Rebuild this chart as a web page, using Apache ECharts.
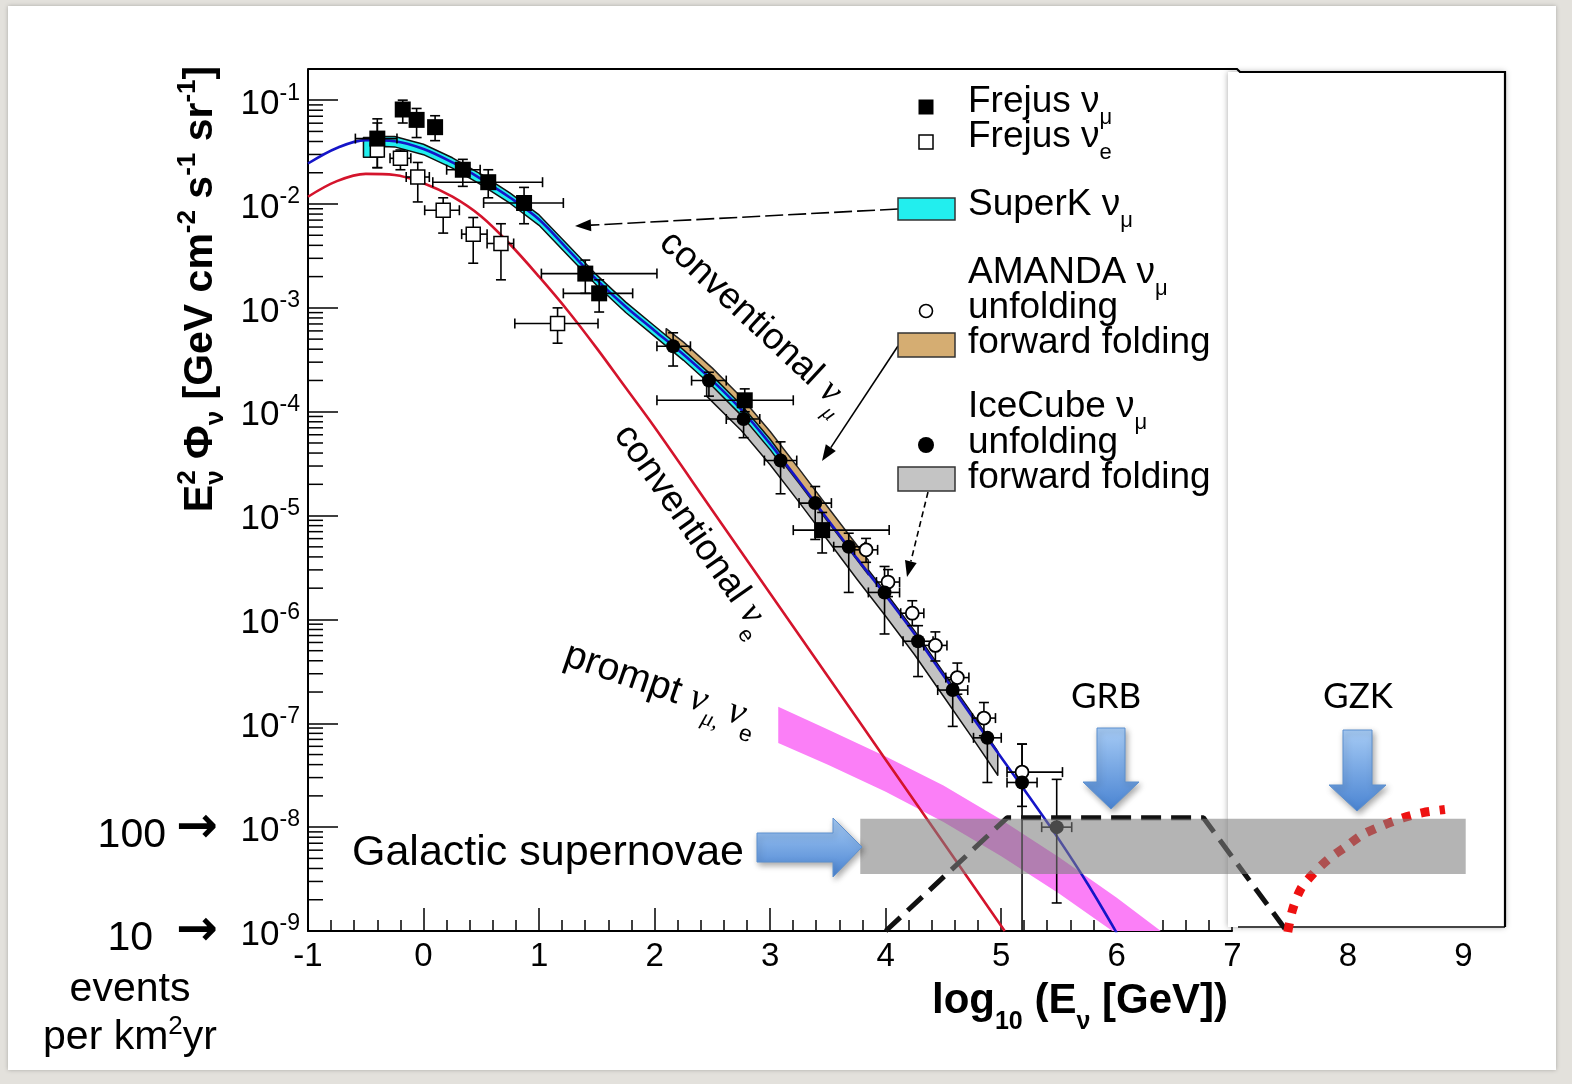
<!DOCTYPE html>
<html>
<head>
<meta charset="utf-8">
<title>Atmospheric neutrino flux</title>
<script src="https://cdn.jsdelivr.net/npm/echarts@6/dist/echarts.min.js"></script>
<style>
  html, body { margin: 0; padding: 0; background: #e3e1dc; }
  #sheet { position: absolute; left: 8px; top: 6px; width: 1548px; height: 1064px; background: #fff;
           box-shadow: 0 0 4px rgba(0,0,0,0.25); }
  #chart { position: absolute; left: 0; top: 0; width: 1572px; height: 1084px; }
</style>
</head>
<body>
<div id="sheet"></div>
<div id="chart"></div>
<script>
// ---------- model curves: x = log10(E/GeV), values = log10 of E^2 Phi ----------
const convMuX   = [-1.0,-0.75,-0.5,-0.25,0.0,0.25,0.5,0.75,1.0,1.25,1.5,1.75,2.0,2.25,2.5,2.75,3.0,3.25,3.5,3.75,4.0,4.25,4.5,4.75,5.0,5.25,5.5,5.75,6.0];
const convMuExp = [-1.61,-1.46,-1.385,-1.395,-1.47,-1.60,-1.76,-1.94,-2.15,-2.44,-2.73,-2.99,-3.22,-3.45,-3.70,-3.98,-4.31,-4.67,-5.04,-5.41,-5.77,-6.14,-6.54,-6.94,-7.33,-7.72,-8.12,-8.55,-9.02];

const convEX   = [-1.0,-0.75,-0.5,-0.25,0.0,0.25,0.5,0.75,1.0,1.25,1.5,1.75,2.0,2.5,3.0,3.5,4.0,4.5,5.03];
const convEExp = [-1.93,-1.78,-1.71,-1.72,-1.80,-1.93,-2.12,-2.39,-2.70,-3.03,-3.39,-3.77,-4.15,-4.95,-5.75,-6.55,-7.35,-8.15,-9.0];

// prompt nu_mu, nu_e band
const promptX     = [3.07, 3.5, 4.0, 4.5, 5.0, 5.5, 6.0, 6.5];
const promptHiExp = [-6.84,-7.06,-7.32,-7.60,-7.93,-8.29,-8.68,-9.10];
const promptLoExp = [-7.19,-7.40,-7.66,-7.95,-8.28,-8.64,-9.03,-9.45];

// SuperK nu_mu band
const superKX     = [-0.52,-0.36,-0.34,-0.25,0.0,0.25,0.5,0.75,1.0,1.25,1.5,1.75,2.0,2.25,2.5,2.75,3.0,3.12];
const superKHiExp = [-1.36,-1.36,-1.35,-1.35,-1.425,-1.555,-1.715,-1.895,-2.105,-2.395,-2.685,-2.945,-3.175,-3.405,-3.655,-3.935,-4.265,-4.445];
const superKLoExp = [-1.55,-1.55,-1.447,-1.45,-1.525,-1.655,-1.815,-1.995,-2.205,-2.495,-2.785,-3.045,-3.275,-3.505,-3.755,-4.035,-4.365,-4.545];

// AMANDA forward folding band
const amandaFFX     = [2.1, 2.25, 2.5, 2.75, 3.0, 3.25, 3.5, 3.85];
const amandaFFHiExp = [-3.20,-3.33,-3.58,-3.86,-4.19,-4.55,-4.92,-5.43];
const amandaFFLoExp = [-3.34,-3.47,-3.72,-4.00,-4.33,-4.69,-5.06,-5.57];

// IceCube forward folding band
const iceFFX     = [2.45, 2.75, 3.0, 3.25, 3.5, 3.75, 4.0, 4.25, 4.5, 4.75, 4.97];
const iceFFHiExp = [-3.62,-3.95,-4.28,-4.64,-5.01,-5.38,-5.74,-6.11,-6.51,-6.91,-7.27];
const iceFFLoExp = [-3.85,-4.18,-4.51,-4.87,-5.24,-5.61,-5.97,-6.34,-6.74,-7.14,-7.50];

// ---------- measurements ----------
const frejusMuX   = [-0.40,-0.18,-0.06, 0.10, 0.34, 0.56, 0.87, 1.40, 1.52, 2.78, 3.45];
const frejusMuExp = [-1.37,-1.09,-1.19,-1.26,-1.67,-1.79,-1.99,-2.67,-2.86,-3.89,-5.14];
const frejusMuXLo = [-0.59, null, null, null, 0.20, 0.08, 0.52, 1.02, 1.21, 2.02, 3.20];
const frejusMuXHi = [-0.23, null, null, null, 0.49, 1.03, 1.21, 2.02, 1.81, 3.20, 4.03];
const frejusMuELo = [-1.65,-1.22,-1.36,-1.39,-1.83,-1.94,-2.19,-2.86,-3.04,-4.00,-5.36];
const frejusMuEHi = [-1.18,-1.00,-1.08,-1.15,-1.57,-1.67,-1.84,-2.54,-2.73,-3.78,-4.97];

const frejusEX   = [-0.40,-0.20,-0.05, 0.17, 0.43, 0.67, 1.16];
const frejusEExp = [-1.48,-1.56,-1.74,-2.06,-2.29,-2.38,-3.15];
const frejusEXLo = [null,-0.29,-0.15, 0.01, 0.33, 0.55, 0.79];
const frejusEXHi = [null,-0.11, 0.05, 0.31, 0.55, 0.78, 1.51];
const frejusEELo = [-1.65,-1.67,-1.98,-2.28,-2.57,-2.73,-3.34];
const frejusEEHi = [-1.22,-1.48,-1.60,-1.94,-2.13,-2.19,-3.00];

const iceX   = [2.16, 2.47, 2.77, 3.09, 3.39, 3.68, 3.99, 4.28, 4.58, 4.88, 5.18, 5.48];
const iceExp = [-3.37,-3.70,-4.07,-4.47,-4.88,-5.30,-5.74,-6.21,-6.68,-7.14,-7.57,-8.00];
const iceXLo = [2.02, 2.32, 2.62, 2.95, 3.25, 3.55, 3.85, 4.15, 4.45, 4.76, 5.05, 5.35];
const iceXHi = [2.31, 2.62, 2.91, 3.23, 3.53, 3.82, 4.12, 4.41, 4.71, 5.00, 5.31, 5.61];
const iceELo = [-3.56,-3.85,-4.25,-4.79,-5.23,-5.74,-6.14,-6.55,-7.03,-7.57,-9.10,-8.73];
const iceEHi = [-3.24,-3.62,-3.92,-4.29,-4.72,-5.17,-5.49,-6.06,-6.58,-7.10,-7.20,-7.54];

const amandaX   = [3.83, 4.02, 4.23, 4.43, 4.62, 4.85, 5.18];
const amandaExp = [-5.33,-5.64,-5.94,-6.25,-6.56,-6.95,-7.47];
const amandaXLo = [3.73, 3.92, 4.13, 4.33, 4.52, 4.75, 5.05];
const amandaXHi = [3.93, 4.12, 4.33, 4.53, 4.72, 4.95, 5.53];
const amandaELo = [-5.45,-5.78,-6.06,-6.40,-6.72,-7.12,-7.80];
const amandaEHi = [-5.22,-5.52,-5.82,-6.12,-6.42,-6.80,-7.20];

// ---------- expected signals ----------
const snX = [3.78, 9.02];             // Galactic supernovae band
const snHiExp = -7.92, snLoExp = -8.45;
const grbX   = [4.0, 5.05, 6.75, 7.47];
const grbExp = [-9.0, -7.91, -7.91, -9.0];
const gzkX   = [7.48, 7.52, 7.59, 7.69, 7.83, 7.98, 8.13, 8.31, 8.48, 8.65, 8.84];
const gzkExp = [-9.01,-8.80,-8.60,-8.46,-8.31,-8.19,-8.07,-7.98,-7.91,-7.86,-7.83];

// axis ranges
const xLeft = -1, xRight = 9.36, xMainRight = 7;
const yBottomExp = -9, yTopExp = -0.7;

// ---------- helpers ----------
const SANS = '"Liberation Sans", Arial, Helvetica, sans-serif';
const SERIF = '"Liberation Serif", "DejaVu Serif", serif';
const CALI = 'Lato, "Open Sans", sans-serif';
const p10 = e => Math.pow(10, e);

const mctx = document.createElement('canvas').getContext('2d');
function fontOf(r) { return (r.italic ? 'italic ' : '') + (r.bold ? 'bold ' : '') + r.size + 'px ' + (r.family || SANS); }
// lays text runs on a shared baseline; (x, y) is the baseline anchor
function textLine(runs, opt) {
  let x = 0; const kids = [];
  const z = opt.z || 30;
  runs.forEach(r => {
    const font = fontOf(r);
    mctx.font = font;
    const w = mctx.measureText(r.t).width;
    kids.push({
      type: 'text', x: x + (r.dx || 0), y: (r.dy || 0) - 0.35 * r.size, z: z, silent: true,
      style: {
        text: r.t, font: font, fill: r.color || '#000',
        align: 'left', verticalAlign: 'middle', textAlign: 'left', textVerticalAlign: 'middle',
        shadowBlur: r.shadow ? 4 : 0, shadowColor: 'rgba(0,0,0,0.5)',
        shadowOffsetX: r.shadow ? 2 : 0, shadowOffsetY: r.shadow ? 2 : 0
      }
    });
    if (!r.stack) x += w;
  });
  const shift = opt.align === 'center' ? -x / 2 : opt.align === 'right' ? -x : 0;
  kids.forEach(k => { k.x += shift; });
  return { type: 'group', x: opt.x, y: opt.y, rotation: (opt.rot || 0) * Math.PI / 180, z: z, children: kids };
}

function bandSeries(name, xs, hi, lo, fill, stroke, z) {
  return {
    type: 'custom', name: name, z: z, clip: true, silent: true,
    data: xs.map((x, i) => [x, p10(hi[i])]),
    renderItem: (params, api) => {
      if (params.dataIndex !== 0) return null;
      const up = xs.map((x, i) => api.coord([x, p10(hi[i])]));
      const dn = xs.map((x, i) => api.coord([x, p10(lo[i])])).reverse();
      return { type: 'polygon', shape: { points: up.concat(dn) },
               style: { fill: fill, stroke: stroke, lineWidth: stroke ? 1.5 : 0, lineJoin: 'round' } };
    }
  };
}

function errorSeries(xs, ys, xlo, xhi, ylo, yhi, z) {
  const cap = 5;
  return {
    type: 'custom', z: z, clip: true, silent: true,
    data: xs.map((x, i) => [x, p10(ys[i])]),
    renderItem: (params, api) => {
      const i = params.dataIndex;
      const kids = [];
      const st = { stroke: '#000', lineWidth: 1.6 };
      if (ylo[i] !== null) {
        const a = api.coord([xs[i], p10(ylo[i])]), b = api.coord([xs[i], p10(yhi[i])]);
        kids.push({ type: 'line', shape: { x1: a[0], y1: a[1], x2: b[0], y2: b[1] }, style: st });
        kids.push({ type: 'line', shape: { x1: a[0] - cap, y1: a[1], x2: a[0] + cap, y2: a[1] }, style: st });
        kids.push({ type: 'line', shape: { x1: b[0] - cap, y1: b[1], x2: b[0] + cap, y2: b[1] }, style: st });
      }
      if (xlo[i] !== null) {
        const a = api.coord([xlo[i], p10(ys[i])]), b = api.coord([xhi[i], p10(ys[i])]);
        kids.push({ type: 'line', shape: { x1: a[0], y1: a[1], x2: b[0], y2: b[1] }, style: st });
        kids.push({ type: 'line', shape: { x1: a[0], y1: a[1] - cap, x2: a[0], y2: a[1] + cap }, style: st });
        kids.push({ type: 'line', shape: { x1: b[0], y1: b[1] - cap, x2: b[0], y2: b[1] + cap }, style: st });
      }
      return { type: 'group', children: kids };
    }
  };
}

// minor ticks of the logarithmic axis (2..9 x 10^n)
const yMinorTicks = [];
for (let n = yBottomExp; n < 0; n++) for (let m = 2; m <= 9; m++) {
  const v = m * p10(n);
  if (v < p10(yTopExp) * 0.999) yMinorTicks.push(v);
}

const seriesList = [
  // prompt band
  bandSeries('prompt', promptX, promptHiExp, promptLoExp, '#fb7ff7', null, 2),
  // forward folding bands
  bandSeries('IceCube forward folding', iceFFX, iceFFHiExp, iceFFLoExp, '#c2c2c2', '#111', 3),
  bandSeries('AMANDA forward folding', amandaFFX, amandaFFHiExp, amandaFFLoExp, '#d5ad72', '#222', 3),
  bandSeries('SuperK', superKX, superKHiExp, superKLoExp, '#22eeee', '#111', 3),
  // conventional fluxes
  { type: 'line', name: 'conventional nu_e', z: 4, smooth: 0.35, showSymbol: false, silent: true,
    data: convEX.map((x, i) => [x, p10(convEExp[i])]),
    lineStyle: { color: '#d4142c', width: 2.6 } },
  { type: 'line', name: 'conventional nu_mu', z: 5, smooth: 0.35, showSymbol: false, silent: true,
    data: convMuX.map((x, i) => [x, p10(convMuExp[i])]),
    lineStyle: { color: '#1515c8', width: 2.6 } },
  // GRB and GZK expectations
  { type: 'line', name: 'GRB', z: 6, showSymbol: false, silent: true, clip: false,
    data: grbX.map((x, i) => [x, p10(grbExp[i])]),
    lineStyle: { color: '#111', width: 5, type: [20, 10] } },
  { type: 'line', name: 'GZK', z: 6, showSymbol: false, silent: true, clip: false, smooth: 0.3,
    data: gzkX.map((x, i) => [x, p10(gzkExp[i])]),
    lineStyle: { color: '#ee1111', width: 9, type: [9, 10], cap: 'butt' } },
  // error bars
  errorSeries(frejusEX, frejusEExp, frejusEXLo, frejusEXHi, frejusEELo, frejusEEHi, 6),
  errorSeries(frejusMuX, frejusMuExp, frejusMuXLo, frejusMuXHi, frejusMuELo, frejusMuEHi, 6),
  errorSeries(amandaX, amandaExp, amandaXLo, amandaXHi, amandaELo, amandaEHi, 6),
  errorSeries(iceX, iceExp, iceXLo, iceXHi, iceELo, iceEHi, 6),
  // markers
  { type: 'scatter', name: 'Frejus nu_e', z: 7, symbol: 'rect', symbolSize: 14, silent: true,
    data: frejusEX.map((x, i) => [x, p10(frejusEExp[i])]),
    itemStyle: { color: '#fff', borderColor: '#000', borderWidth: 1.5, opacity: 1 } },
  { type: 'scatter', name: 'Frejus nu_mu', z: 8, symbol: 'rect', symbolSize: 16, silent: true,
    data: frejusMuX.map((x, i) => [x, p10(frejusMuExp[i])]),
    itemStyle: { color: '#000', opacity: 1 } },
  { type: 'scatter', name: 'AMANDA unfolding', z: 7, symbol: 'circle', symbolSize: 13, silent: true,
    data: amandaX.map((x, i) => [x, p10(amandaExp[i])]),
    itemStyle: { color: '#fff', borderColor: '#000', borderWidth: 1.8, opacity: 1 } },
  { type: 'scatter', name: 'IceCube unfolding', z: 8, symbol: 'circle', symbolSize: 14, silent: true,
    data: iceX.map((x, i) => [x, p10(iceExp[i])]),
    itemStyle: { color: '#000', opacity: 1 } },
  // Galactic supernovae band
  { type: 'custom', name: 'Galactic supernovae', z: 10, silent: true, clip: false,
    data: [[snX[0], p10(snHiExp)]],
    renderItem: (params, api) => {
      const a = api.coord([snX[0], p10(snHiExp)]), b = api.coord([snX[1], p10(snLoExp)]);
      return { type: 'rect', shape: { x: a[0], y: a[1], width: b[0] - a[0], height: b[1] - a[1] },
               style: { fill: 'rgba(125,125,125,0.58)' } };
    } },
  // minor ticks of the y axis
  { type: 'custom', name: 'minor ticks', z: 4, silent: true, clip: false,
    data: yMinorTicks.map(v => [xLeft, v]),
    renderItem: (params, api) => {
      const p = api.coord([xLeft, yMinorTicks[params.dataIndex]]);
      return { type: 'line', shape: { x1: p[0], y1: p[1], x2: p[0] + 15, y2: p[1] },
               style: { stroke: '#000', lineWidth: 1.5 } };
    } }
];

// ---------- static decorations ----------
function blockArrow(points) {
  return { type: 'polygon', z: 20, silent: true, shape: { points: points },
    style: { fill: new echarts.graphic.LinearGradient(0, 0, 0, 1, [
              { offset: 0, color: '#a6cbf5' }, { offset: 1, color: '#4a84d2' }]),
             stroke: '#5d90cf', lineWidth: 1,
             shadowBlur: 6, shadowColor: 'rgba(0,0,0,0.35)', shadowOffsetX: 2, shadowOffsetY: 3 } };
}
function leader(x1, y1, x2, y2, dash) {
  const ang = Math.atan2(y2 - y1, x2 - x1), L = 16, W = 6;
  const bx = x2 - L * Math.cos(ang), by = y2 - L * Math.sin(ang);
  const nx = -Math.sin(ang), ny = Math.cos(ang);
  return [
    { type: 'line', z: 25, silent: true, shape: { x1: x1, y1: y1, x2: bx, y2: by },
      style: { stroke: '#000', lineWidth: 1.6, lineDash: dash || null } },
    { type: 'polygon', z: 25, silent: true,
      shape: { points: [[x2, y2], [bx + nx * W, by + ny * W], [bx - nx * W, by - ny * W]] },
      style: { fill: '#000' } }
  ];
}
function rightArrowGlyph(x, y) {
  return textLine([{ t: '\u2192', size: 50, bold: true, family: '"DejaVu Sans"', shadow: true }], { x: x, y: y });
}

const LEG = 37, SUB = 22;
const graphics = [
  // right-hand extension panel
  { type: 'rect', z: 1, silent: true, shape: { x: 1228, y: 72, width: 277, height: 855 },
    style: { fill: '#fff', shadowBlur: 6, shadowColor: 'rgba(0,0,0,0.35)' } },
  { type: 'polyline', z: 26, silent: true, shape: { points: [[308, 69], [1237, 69], [1240, 72], [1505, 72], [1505, 927]] },
    style: { stroke: '#000', lineWidth: 2.2, fill: null } },
  { type: 'line', z: 1, silent: true, shape: { x1: 1238, y1: 927, x2: 1505, y2: 927 },
    style: { stroke: '#444', lineWidth: 2 } },

  // legend symbols
  { type: 'rect', z: 30, shape: { x: 918.5, y: 99.5, width: 15, height: 15 }, style: { fill: '#000' } },
  { type: 'rect', z: 30, shape: { x: 919, y: 135, width: 14, height: 14 }, style: { fill: '#fff', stroke: '#000', lineWidth: 1.5 } },
  { type: 'rect', z: 30, shape: { x: 898, y: 198, width: 57, height: 22 }, style: { fill: '#22eeee', stroke: '#333', lineWidth: 1.5 } },
  { type: 'circle', z: 30, shape: { cx: 926, cy: 311, r: 6.5 }, style: { fill: '#fff', stroke: '#000', lineWidth: 1.6 } },
  { type: 'rect', z: 30, shape: { x: 898, y: 333, width: 57, height: 24 }, style: { fill: '#d5ad72', stroke: '#333', lineWidth: 1.5 } },
  { type: 'circle', z: 30, shape: { cx: 926, cy: 445, r: 8 }, style: { fill: '#000' } },
  { type: 'rect', z: 30, shape: { x: 898, y: 467, width: 57, height: 24 }, style: { fill: '#c4c4c4', stroke: '#333', lineWidth: 1.5 } },

  // legend labels
  textLine([{ t: 'Frejus \u03bd', size: LEG }, { t: '\u03bc', size: SUB, dy: 11 }], { x: 968, y: 115 }),
  textLine([{ t: 'Frejus \u03bd', size: LEG }, { t: 'e', size: SUB, dy: 11 }], { x: 968, y: 150 }),
  textLine([{ t: 'SuperK \u03bd', size: LEG }, { t: '\u03bc', size: SUB, dy: 11 }], { x: 968, y: 218 }),
  textLine([{ t: 'AMANDA \u03bd', size: LEG }, { t: '\u03bc', size: SUB, dy: 11 }], { x: 968, y: 286 }),
  textLine([{ t: 'unfolding', size: LEG }], { x: 968, y: 321 }),
  textLine([{ t: 'forward folding', size: LEG }], { x: 968, y: 356 }),
  textLine([{ t: 'IceCube \u03bd', size: LEG }, { t: '\u03bc', size: SUB, dy: 11 }], { x: 968, y: 420 }),
  textLine([{ t: 'unfolding', size: LEG }], { x: 968, y: 456 }),
  textLine([{ t: 'forward folding', size: LEG }], { x: 968, y: 491 }),

  // leader arrows from the legend
  ...leader(898, 209, 575, 226, [18, 5]),
  ...leader(898, 346, 822, 461, null),
  ...leader(928, 492, 907, 577, [6, 4]),

  // curve annotations
  textLine([{ t: 'conventional ', size: 37 }, { t: '\u03bd', size: 37, italic: true, family: SERIF },
            { t: '\u03bc', size: 22, italic: true, family: SERIF, dy: 12 }], { x: 656, y: 247, rot: -43 }),
  textLine([{ t: 'conventional ', size: 37 }, { t: '\u03bd', size: 37, italic: true, family: SERIF },
            { t: 'e', size: 22, dy: 12 }], { x: 611, y: 436, rot: -55 }),
  textLine([{ t: 'prompt ', size: 39 }, { t: '\u03bd', size: 39, italic: true, family: SERIF },
            { t: '\u03bc, ', size: 23, italic: true, family: SERIF, dy: 10 },
            { t: '\u03bd', size: 39, italic: true, family: SERIF },
            { t: 'e', size: 23, dy: 12 }], { x: 561, y: 667, rot: -19 }),

  // signal labels and arrows
  textLine([{ t: 'Galactic supernovae', size: 43 }], { x: 352, y: 868 }),
  blockArrow([[757, 833], [833, 833], [833, 818], [862, 847], [833, 877], [833, 862], [757, 862]]),
  textLine([{ t: 'GRB', size: 35, family: CALI }], { x: 1106, y: 709, align: 'center' }),
  blockArrow([[1097, 728], [1125, 728], [1125, 782], [1139, 782], [1111, 809], [1083, 782], [1097, 782]]),
  textLine([{ t: 'GZK', size: 35, family: CALI }], { x: 1358, y: 709, align: 'center' }),
  blockArrow([[1343, 730], [1372, 730], [1372, 785], [1386, 785], [1357, 811], [1329, 785], [1343, 785]]),

  // event-rate scale on the left
  textLine([{ t: '100', size: 41 }], { x: 166, y: 850, align: 'right' }),
  rightArrowGlyph(176, 847),
  textLine([{ t: '10', size: 41 }], { x: 153, y: 953, align: 'right' }),
  rightArrowGlyph(176, 950),
  textLine([{ t: 'events', size: 41 }], { x: 130, y: 1004, align: 'center' }),
  textLine([{ t: 'per km', size: 41 }, { t: '2', size: 26, dy: -16 }, { t: 'yr', size: 41 }], { x: 130, y: 1052, align: 'center' }),

  // axis titles
  textLine([{ t: 'E', size: 41, bold: true }, { t: '2', size: 26, bold: true, dy: -18, stack: true },
            { t: '\u03bd', size: 26, bold: true, dy: 10 }, { t: ' \u03a6', size: 41, bold: true },
            { t: '\u03bd', size: 26, bold: true, dy: 10 }, { t: ' [GeV cm', size: 41, bold: true },
            { t: '-2', size: 26, bold: true, dy: -18 }, { t: ' s', size: 41, bold: true },
            { t: '-1', size: 26, bold: true, dy: -18 }, { t: ' sr', size: 41, bold: true },
            { t: '-1', size: 26, bold: true, dy: -18 }, { t: ']', size: 41, bold: true }],
           { x: 215, y: 289, rot: 90, align: 'center' }),
  textLine([{ t: 'log', size: 42, bold: true }, { t: '10', size: 25, bold: true, dy: 15 },
            { t: ' (E', size: 42, bold: true }, { t: '\u03bd', size: 25, bold: true, dy: 15 },
            { t: ' [GeV])', size: 42, bold: true }], { x: 1080, y: 1016, align: 'center' })
];

const option = {
  animation: false,
  backgroundColor: 'transparent',
  grid: [
    { left: 308, top: 69, width: 1197, height: 862 },
    { left: 308, top: 69, width: 924, height: 862 }
  ],
  xAxis: [
    { gridIndex: 0, type: 'value', min: xLeft, max: xRight, interval: 1,
      axisLine: { show: false, onZero: false }, axisTick: { show: false }, splitLine: { show: false },
      axisLabel: { margin: 9, fontSize: 33, fontFamily: SANS, color: '#000',
                   formatter: v => (Math.abs(v - Math.round(v)) < 1e-6 ? String(Math.round(v)) : '') } },
    { gridIndex: 1, type: 'value', min: xLeft, max: xMainRight, interval: 1,
      axisLine: { show: true, onZero: false, lineStyle: { color: '#000', width: 2 } },
      axisTick: { show: true, inside: true, length: 23, lineStyle: { color: '#000', width: 1.5 } },
      minorTick: { show: true, splitNumber: 5, length: 11, lineStyle: { color: '#000', width: 1.5 } },
      axisLabel: { show: false }, splitLine: { show: false } }
  ],
  yAxis: [
    { gridIndex: 0, type: 'log', logBase: 10, min: p10(yBottomExp), max: p10(yTopExp),
      axisLine: { show: true, onZero: false, lineStyle: { color: '#000', width: 2 } },
      axisTick: { show: true, inside: true, length: 30, lineStyle: { color: '#000', width: 1.5 } },
      splitLine: { show: false },
      axisLabel: { margin: 8,
        formatter: v => {
          const e = Math.log10(v);
          if (Math.abs(e - Math.round(e)) > 1e-6) return '';
          return '{b|10}{s|' + Math.round(e) + '}';
        },
        rich: { b: { fontSize: 35, fontFamily: SANS, color: '#000', padding: [8, 0, 0, 0] },
                s: { fontSize: 23, fontFamily: SANS, color: '#000', padding: [0, 0, 14, 0] } } } },
    { gridIndex: 1, type: 'value', show: false, min: 0, max: 1, axisLine: { onZero: false } }
  ],
  series: seriesList,
  graphic: { elements: graphics }
};

const chart = echarts.init(document.getElementById('chart'), null, { renderer: 'canvas' });
chart.setOption(option);
</script>
</body>
</html>
